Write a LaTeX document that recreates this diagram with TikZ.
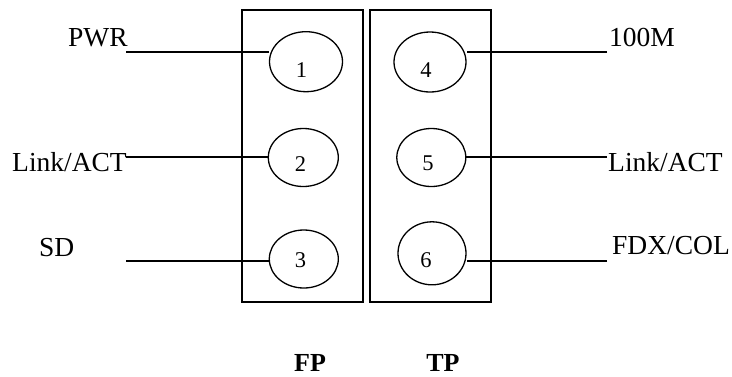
\documentclass[tikz,border=0pt]{standalone}
\usepackage{fontspec}
\setmainfont{Liberation Serif}
\usetikzlibrary{shapes.geometric}
\begin{document}
\begin{tikzpicture}[x=1pt,y=-1pt,
  lbl/.style={anchor=base west,inner sep=0pt,font=\fontsize{27.5}{30}\selectfont},
  num/.style={anchor=base,inner sep=0pt,font=\fontsize{22.5}{26}\selectfont},
  ttl/.style={anchor=base,inner sep=0pt,font=\fontsize{26}{28}\selectfont\bfseries},
  led/.style={draw,ellipse,inner sep=0pt,line width=1.3pt},
  panel/.style={draw,line width=1.4pt},
  wire/.style={draw,line width=1.3pt}]
\useasboundingbox (0,0) rectangle (732,376);
\fill[white] (0,0) rectangle (732,376);
% panels
\node[panel,minimum width=121pt,minimum height=292pt,inner sep=0pt] (fpbox) at (302.5,156) {};
\node[panel,minimum width=121pt,minimum height=292pt,inner sep=0pt] (tpbox) at (430.5,156) {};
% leds
\node[led,minimum width=73pt,minimum height=60pt] (c1) at (306,61.7) {};
\node[led,minimum width=70pt,minimum height=58pt] (c2) at (303.3,157.5) {};
\node[led,minimum width=69pt,minimum height=58pt] (c3) at (303.8,259) {};
\node[led,minimum width=72pt,minimum height=60pt] (c4) at (430,62) {};
\node[led,minimum width=69pt,minimum height=58pt] (c5) at (431.3,157.5) {};
\node[led,minimum width=68pt,minimum height=63pt] (c6) at (432,253.3) {};
% numbers
\node[num] (n1) at (301.5,77) {1};
\node[num] (n2) at (300.5,171) {2};
\node[num] (n3) at (300.5,267.5) {3};
\node[num] (n4) at (426,77) {4};
\node[num] (n5) at (428,170) {5};
\node[num] (n6) at (426,267.5) {6};
% labels
\node[lbl] (pwr) at (68,46) {PWR};
\node[lbl] (lal) at (12,171.5) {Link/ACT};
\node[lbl] (sd) at (39,256) {SD};
\node[lbl] (m100) at (609,46.5) {100M};
\node[lbl] (lar) at (608,171.5) {Link/ACT};
\node[lbl] (fdx) at (612,254) {FDX/COL};
\node[ttl] (fp) at (310,371.5) {FP};
\node[ttl] (tp) at (443,371.5) {TP};
% wire ends
\coordinate (w1) at (126,52);
\coordinate (w2) at (126,157);
\coordinate (w3) at (126,261);
\coordinate (w4) at (607,52);
\coordinate (w5) at (607,157);
\coordinate (w6) at (607,261);
\draw[wire] (w1) -- (c1.west |- w1);
\draw[wire] (w2) -- (c2.west |- w2);
\draw[wire] (w3) -- (c3.west |- w3);
\draw[wire] (w4) -- (c4.east |- w4);
\draw[wire] (w5) -- (c5.east |- w5);
\draw[wire] (w6) -- (c6.east |- w6);
\end{tikzpicture}
\end{document}
